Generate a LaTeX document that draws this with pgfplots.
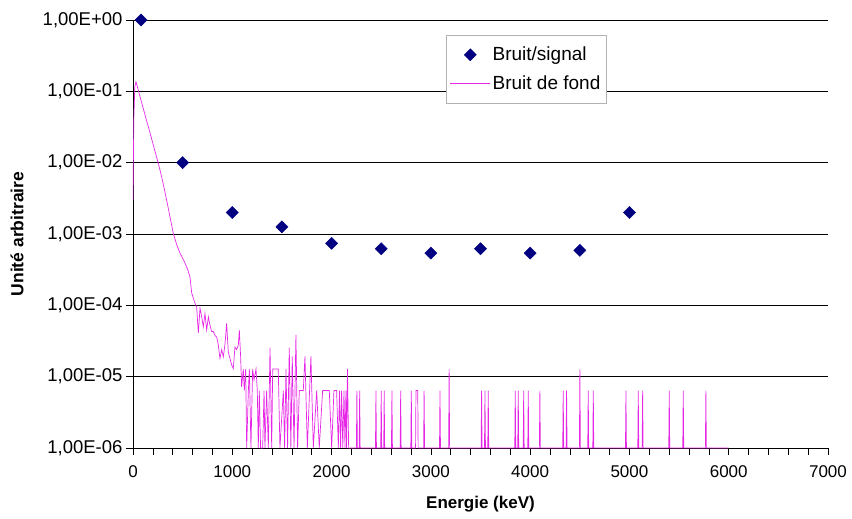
\documentclass[border=0pt]{standalone}
\usepackage{pgfplots}
\pgfplotsset{compat=1.18}
\usepackage{fontspec}
\setmainfont{Liberation Sans}

\definecolor{navy}{RGB}{0,0,128}
\definecolor{fond}{RGB}{230,40,230}

\begin{document}
\begin{tikzpicture}
\begin{axis}[
    scale only axis,
    width=695pt, height=428pt,
    xmin=0, xmax=7000,
    ymode=log, ymin=1e-6, ymax=1,
    axis lines=left,
    axis line style={-, black, line width=0.8pt},
    xtick={0,1000,...,7000},
    xticklabels={0,1000,2000,3000,4000,5000,6000,7000},
    minor xtick={200,400,...,6800},
    ytick={1e-6,1e-5,1e-4,1e-3,1e-2,1e-1,1},
    yticklabels={{1,00E-06},{1,00E-05},{1,00E-04},{1,00E-03},{1,00E-02},{1,00E-01},{1,00E+00}},
    yminorticks=false,
    tick align=outside,
    major tick length=7pt, minor tick length=7pt,
    every tick/.style={black, line width=0.7pt},
    ymajorgrids,
    grid style={black, line width=0.8pt},
    xticklabel style={font=\fontsize{17}{19}\selectfont, yshift=-7pt},
    yticklabel style={font=\fontsize{18.5}{20}\selectfont},
    xlabel={\bfseries Energie (keV)},
    ylabel={\bfseries Unité arbitraire},
    every axis x label/.style={at={(axis description cs:0.5,0)}, anchor=center, yshift=-56pt, font=\fontsize{17}{19}\selectfont},
    every axis y label/.style={at={([xshift=-116pt]axis description cs:0,0.5)}, anchor=center, rotate=90, font=\fontsize{17.5}{19}\selectfont},
    legend style={at={(0.450,0.965)}, anchor=north west, draw=gray!60, fill=white,
        font=\fontsize{19}{21}\selectfont, row sep=9pt, inner xsep=4pt, inner ysep=10pt},
    legend cell align=left,
    legend image code/.code={\draw[mark repeat=2,mark phase=2,#1] plot coordinates {(0pt,0pt) (20pt,0pt) (40pt,0pt)};},
]

\addplot[only marks, mark=square*, mark size=4.3pt, mark options={rotate=45, fill=navy, draw=navy}] coordinates {
    (80,1) (500,1e-2) (1000,2e-3) (1500,1.26e-3) (2000,7.4e-4) (2500,6.2e-4)
    (3000,5.4e-4) (3500,6.2e-4) (4000,5.4e-4) (4500,5.9e-4) (5000,2e-3)
};
\addlegendentry{Bruit/signal}

\addplot[fond, line width=0.7pt, mark=none] coordinates {
    (0,3e-3) (8,0.04) (18,0.115) (30,0.136) (45,0.115) (70,0.085) (100,0.060)
    (130,0.042) (160,0.030) (190,0.021) (220,0.0147) (255,0.0098) (289,0.0063)
    (320,0.0040) (350,0.0025) (380,0.00155) (406,0.00102) (440,7.1e-4)
    (473,5.4e-4) (500,4.6e-4) (524,3.9e-4) (550,3.2e-4) (574,2.5e-4)
    (591,1.5e-4) (607,1.26e-4) (624,1.07e-4) (641,9.6e-5) (658,4.1e-5)
    (675,9.1e-5) (692,6.9e-5) (708,5.0e-5) (725,7.7e-5) (742,4.5e-5)
    (759,6.9e-5) (775,5.3e-5) (792,4.3e-5) (809,4.3e-5) (826,3.8e-5)
    (843,3.6e-5) (859,2.8e-5) (876,1.8e-5) (893,2.4e-5) (910,1.9e-5)
    (927,2.9e-5) (943,5.6e-5) (960,2.2e-5) (977,1.8e-5) (994,1.45e-5)
    (1010,1.3e-5) (1027,2.6e-5) (1044,2.4e-5) (1061,2.8e-5) (1071,4.5e-5)
    (1084,1.9e-5) (1094,7.2e-6) (1111,1.28e-5) (1121,6.4e-6) (1135,1.28e-5)
    (1145,1e-6) (1162,6.4e-6) (1172,1.28e-5) (1188,1e-6) (1205,1.28e-5)
    (1219,9e-6) (1239,1.28e-5) (1252,6.4e-6) (1262,1e-6) (1272,6.4e-6)
    (1285,1e-6) (1306,1e-6) (1320,6.4e-6) (1329,1e-6) (1346,6.4e-6)
    (1363,1e-6) (1380,2.56e-5) (1397,1e-6) (1407,1.28e-5) (1430,1.28e-5)
    (1463,1.28e-5) (1480,1e-6) (1514,6.4e-6) (1527,1e-6) (1541,1.28e-5)
    (1557,1e-6) (1574,2.56e-5) (1590,1e-6) (1604,1.92e-5) (1622,1e-6)
    (1641,3.84e-5) (1658,1e-6) (1675,6.4e-6) (1715,6.4e-6) (1732,1.92e-5)
    (1756,1e-6) (1792,1.92e-5) (1816,1e-6) (1850,6.4e-6) (1876,1e-6)
    (1910,6.4e-6) (1977,6.4e-6) (2001,1e-6) (2024,6.4e-6) (2051,6.4e-6)
    (2068,1e-6) (2080,6.4e-6) (2091,1e-6) (2101,6.4e-6) (2113,1e-6)
    (2125,6.4e-6) (2135,1e-6) (2145,6.4e-6) (2151,1e-6) (2160,1.28e-5)
    (2172,1e-6)
    (2250,1e-6) (2255,6.4e-6) (2260,1e-6)
    (2278,1e-6) (2283,6.4e-6) (2288,1e-6)
    (2442,1e-6) (2447,6.4e-6) (2452,1e-6)
    (2495,1e-6) (2500,6.4e-6) (2505,1e-6)
    (2525,1e-6) (2530,6.4e-6) (2535,1e-6)
    (2603,1e-6) (2608,6.4e-6) (2613,1e-6)
    (2691,1e-6) (2696,6.4e-6) (2701,1e-6)
    (2798,1e-6) (2803,6.4e-6) (2808,1e-6)
    (2846,1e-6) (2850,6.4e-6) (2868,6.4e-6) (2872,1e-6)
    (2927,1e-6) (2932,6.4e-6) (2937,1e-6)
    (3087,1e-6) (3092,6.4e-6) (3097,1e-6)
    (3179,1e-6) (3184,1.28e-5) (3189,1e-6)
    (3506,1e-6) (3511,6.4e-6) (3516,1e-6)
    (3540,1e-6) (3545,6.4e-6) (3550,1e-6)
    (3573,1e-6) (3578,6.4e-6) (3583,1e-6)
    (3845,1e-6) (3850,6.4e-6) (3855,1e-6)
    (3875,1e-6) (3880,6.4e-6) (3885,1e-6)
    (3930,1e-6) (3935,6.4e-6) (3940,1e-6)
    (3976,1e-6) (3981,6.4e-6) (3986,1e-6)
    (4093,1e-6) (4098,6.4e-6) (4103,1e-6)
    (4328,1e-6) (4333,6.4e-6) (4338,1e-6)
    (4362,1e-6) (4367,6.4e-6) (4372,1e-6)
    (4496,1e-6) (4501,1.28e-5) (4506,1e-6)
    (4580,1e-6) (4585,6.4e-6) (4590,1e-6)
    (4631,1e-6) (4636,6.4e-6) (4641,1e-6)
    (4960,1e-6) (4965,6.4e-6) (4970,1e-6)
    (5084,1e-6) (5089,6.4e-6) (5094,1e-6)
    (5128,1e-6) (5133,6.4e-6) (5138,1e-6)
    (5396,1e-6) (5401,6.4e-6) (5406,1e-6)
    (5537,1e-6) (5542,6.4e-6) (5547,1e-6)
    (5765,1e-6) (5770,6.4e-6) (5775,1e-6)
    (6000,1e-6)
};
\addlegendentry{Bruit de fond}

\end{axis}
\pgfresetboundingbox
\path ([shift={(-133pt,-70pt)}]current axis.south west) rectangle ([shift={(24pt,20pt)}]current axis.north east);
\end{tikzpicture}
\end{document}
